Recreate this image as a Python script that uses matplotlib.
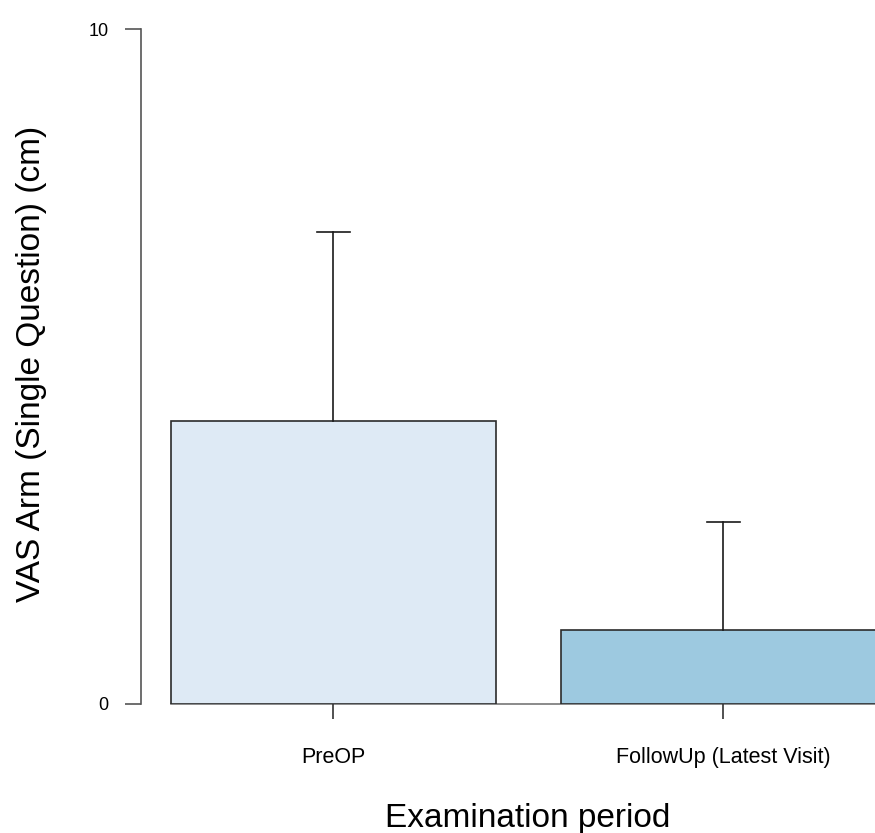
import matplotlib
matplotlib.use("Agg")
import matplotlib.pyplot as plt

plt.rcParams['font.family'] = ['Liberation Sans', 'DejaVu Sans']

categories = ["PreOP", "FollowUp (Latest Visit)"]
means = [4.19, 1.09]
sds = [2.80, 1.61]
colors = ["#DEEAF5", "#9DC9E0"]

W, H = 875, 833
fig = plt.figure(figsize=(W / 100, H / 100), dpi=100)

# axes frame: y spine at x=141px, y range 29..704px from top
left = 141 / W
bottom = (H - 704) / H
height = (704 - 29) / H
ax = fig.add_axes([left, bottom, 1 - left, height])

positions = [0, 1]
bar_w = 325 / 390
x0 = (141 - 333) / 390
x1 = (875 - 333) / 390
ax.set_xlim(x0, x1)
ax.set_ylim(0, 10)

edge = "#2b2b2b"
ax.bar(positions, means, width=bar_w, color=colors, edgecolor=edge,
       linewidth=1.2, zorder=2, clip_on=True)

# baseline under the bars
ax.plot([positions[0] - bar_w / 2, x1], [0, 0], color="#777777",
        linewidth=1.2, zorder=1, clip_on=False)

# upper error whiskers
cap = 16.5 / 390
for p, m, s in zip(positions, means, sds):
    ax.plot([p, p], [m, m + s], color="#1a1a1a", linewidth=1.2, zorder=3)
    ax.plot([p - cap, p + cap], [m + s, m + s], color="#1a1a1a",
            linewidth=1.2, zorder=3)

for side in ["top", "right", "bottom"]:
    ax.spines[side].set_visible(False)
ax.spines["left"].set_color("#555555")
ax.spines["left"].set_linewidth(1.2)

ax.set_yticks([0, 10])
ax.set_yticklabels(["0", "10"], fontsize=13)
ax.tick_params(axis="y", length=11.5, width=1.2, color="#555555", pad=12)

ax.set_xticks(positions)
ax.set_xticklabels(categories, fontsize=15.5)
ax.tick_params(axis="x", length=11, width=1.2, color="#333333", pad=20)

fig.text(32 / W, 1 - 364 / H, "VAS Arm (Single Question) (cm)", fontsize=24,
         rotation=90, ha="center", va="center")
fig.text(528 / W, 1 - 818 / H, "Examination period", fontsize=24,
         ha="center", va="center")

fig.savefig("out.png", dpi=100)
